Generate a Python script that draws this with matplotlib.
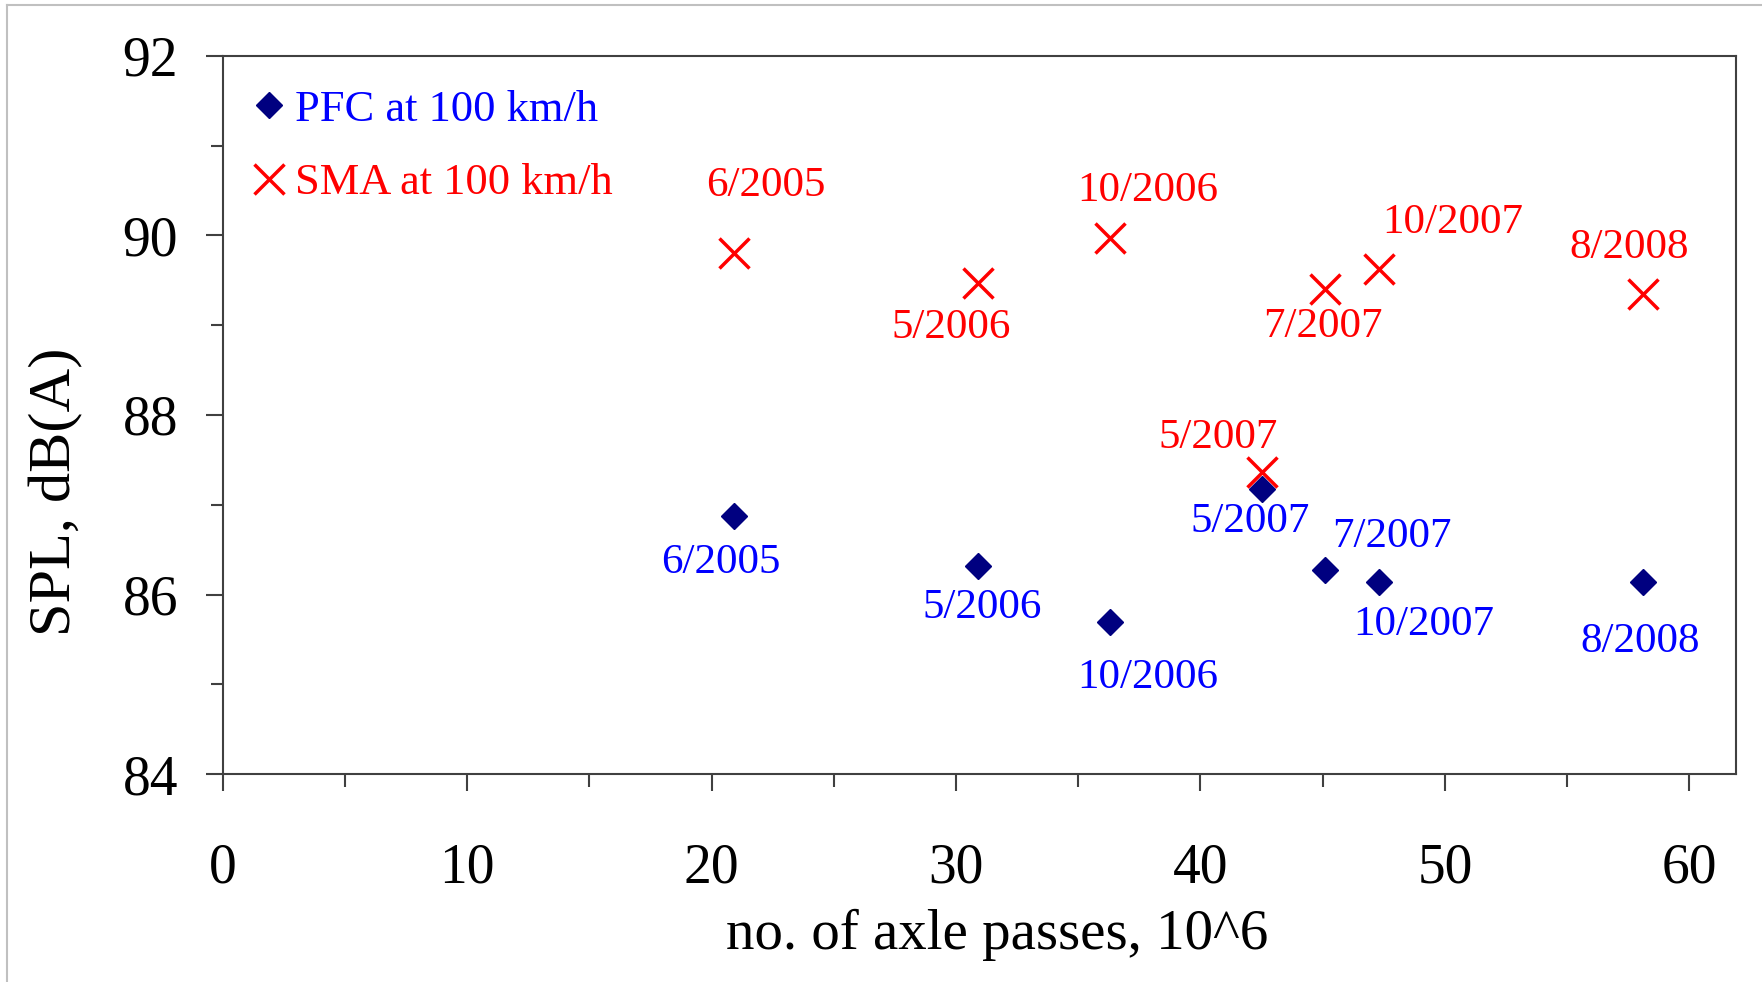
import matplotlib
matplotlib.use("Agg")
import matplotlib.pyplot as plt
from matplotlib.lines import Line2D

plt.rcParams['font.family'] = ['Liberation Serif', 'DejaVu Serif']

# passes (10^6) and SPL readings
dates = ["6/2005", "5/2006", "10/2006", "5/2007", "7/2007", "10/2007", "8/2008"]
passes = [20.9, 30.9, 36.3, 42.5, 45.1, 47.3, 58.1]
pfc_spl = [86.88, 86.32, 85.69, 87.17, 86.27, 86.14, 86.14]
sma_spl = [89.80, 89.47, 89.97, 87.36, 89.40, 89.63, 89.35]

# label offsets (points) for each date label
sma_off = [(23, 49), (-19, -32), (27, 34), (-31, 25), (-2, -27), (53, 33), (-10, 33)]
pfc_off = [(-9, -34), (3, -30), (27, -40), (-8, -23), (48, 24), (32, -31), (-2, -43)]

fig = plt.figure(figsize=(17.62, 9.82), dpi=100)
ax = fig.add_axes([0.1263, 0.2118, 0.9852 - 0.1263, 0.943 - 0.2118])

ax.plot(passes, pfc_spl, linestyle="none", marker="D", ms=13, color="#000080",
        label="PFC at 100 km/h")
ax.plot(passes, sma_spl, linestyle="none", marker="x", ms=22, mew=2.5, color="#ff0000",
        label="SMA at 100 km/h")

for xi, yi, lab, off in zip(passes, sma_spl, dates, sma_off):
    ax.annotate(lab, (xi, yi), xytext=off, textcoords="offset points",
                ha="center", va="center", color="#ff0000", fontsize=31)
for xi, yi, lab, off in zip(passes, pfc_spl, dates, pfc_off):
    ax.annotate(lab, (xi, yi), xytext=off, textcoords="offset points",
                ha="center", va="center", color="#0000ff", fontsize=31)

ax.set_xlim(0, 61.9)
ax.set_ylim(84, 92)
ax.set_xticks(range(0, 61, 10))
ax.set_xticks(range(5, 61, 10), minor=True)
ax.set_yticks(range(84, 93, 2))
ax.set_yticks(range(85, 92, 2), minor=True)
ax.tick_params(which="major", direction="out", length=12, width=1.5, labelsize=40,
               color="#404040")
ax.tick_params(which="minor", direction="out", length=9, width=1.5, color="#404040")
ax.tick_params(axis="x", which="major", pad=37)
ax.tick_params(axis="y", which="major", pad=20)
for s in ax.spines.values():
    s.set_linewidth(1.5)
    s.set_color("#404040")

ax.set_xlabel("no. of axle passes, 10^6", fontsize=41)
ax.xaxis.set_label_coords(0.512, -0.188)
ax.set_ylabel("SPL, dB(A)", fontsize=43.5)
ax.yaxis.set_label_coords(-0.092, 0.393)

leg = ax.legend(loc="upper left", frameon=False, fontsize=32, handlelength=0.6,
                handletextpad=0.3, labelspacing=0.75, borderaxespad=0.2,
                bbox_to_anchor=(0.004, 0.99))
for txt, col in zip(leg.get_texts(), ["#0000ff", "#ff0000"]):
    txt.set_color(col)

# thin grey frame on top and left edges of the picture
fig.add_artist(Line2D([7 / 1762, 1], [1 - 5 / 982, 1 - 5 / 982], color="#c0c0c0", lw=1.5,
                      transform=fig.transFigure))
fig.add_artist(Line2D([7 / 1762, 7 / 1762], [0, 1 - 5 / 982], color="#c0c0c0", lw=1.5,
                      transform=fig.transFigure))

fig.savefig("out.png", dpi=100)
